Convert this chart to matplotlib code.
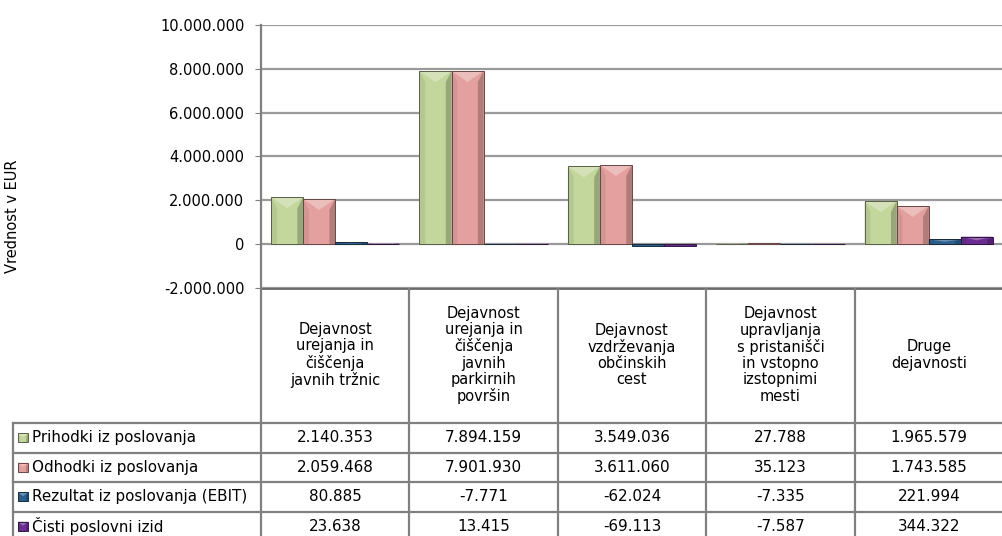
import numpy as np
import matplotlib
matplotlib.use('Agg')
import matplotlib.pyplot as plt
from matplotlib.patches import Polygon
from matplotlib.ticker import FuncFormatter
from matplotlib.colors import to_rgb

# ---------- DATA ----------
categories = [
    'Dejavnost\nurejanja in\nčiščenja\njavnih tržnic',
    'Dejavnost\nurejanja in\nčiščenja\njavnih\nparkirnih\npovršin',
    'Dejavnost\nvzdrževanja\nobčinskih\ncest',
    'Dejavnost\nupravljanja\ns pristanišči\nin vstopno\nizstopnimi\nmesti',
    'Druge\ndejavnosti',
]
series_names = ['Prihodki iz poslovanja', 'Odhodki iz poslovanja',
                'Rezultat iz poslovanja (EBIT)', 'Čisti poslovni izid']
prihodki = [2140353, 7894159, 3549036, 27788, 1965579]
odhodki = [2059468, 7901930, 3611060, 35123, 1743585]
ebit = [80885, -7771, -62024, -7335, 221994]
cisti = [23638, 13415, -69113, -7587, 344322]
yticks = [-2000000, 0, 2000000, 4000000, 6000000, 8000000, 10000000]

series = [prihodki, odhodki, ebit, cisti]
colors = ['#c3d69b', '#e3a09e', '#2e5f8c', '#6a2c91']

W, H = 1003, 536
FS = 10.5
FS_ROW = 10.9


def fmt(v):
    s = f'{abs(int(v)):,}'.replace(',', '.')
    return '-' + s if v < 0 else s


def shade(c, f):
    r, g, b = to_rgb(c)
    if f >= 1:
        return tuple(x + (1 - x) * (f - 1) for x in (r, g, b))
    return tuple(x * f for x in (r, g, b))


def bevel(ax, x0, x1, y0, y1, by, color):
    # beveled bar: light V on top, darker sides
    by = min(by, abs(y1 - y0) / 2) if by > 0 else max(by, -abs(y1 - y0) / 2)
    xm = (x0 + x1) / 2
    ax.add_patch(Polygon([(x0, y0), (x1, y0), (x1, y1), (x0, y1)], closed=True,
                         fc=color, ec='none', zorder=3))
    sx = (x1 - x0) * 0.18
    ax.add_patch(Polygon([(x0, y0), (x0, y1), (x0 + sx, y1 - by), (x0 + sx, y0)],
                         fc=shade(color, 0.93), ec='none', zorder=4))
    ax.add_patch(Polygon([(x1, y0), (x1, y1), (x1 - sx, y1 - by), (x1 - sx, y0)],
                         fc=shade(color, 0.78), ec='none', zorder=4))
    ax.add_patch(Polygon([(x0, y1), (x1, y1), (xm, y1 - by)],
                         fc=shade(color, 1.3), ec='none', zorder=4))
    ax.add_patch(Polygon([(x0, y0), (x1, y0), (x1, y1), (x0, y1)], closed=True,
                         fc='none', ec=shade(color, 0.45), lw=0.7, zorder=5))


fig = plt.figure(figsize=(W / 100, H / 100), dpi=100)
plt.rcParams['font.family'] = ['DejaVu Sans']

# ---------- CHART ----------
left, right, top, bottom = 261, 1003, 25, 288
ax = fig.add_axes([left / W, 1 - bottom / H, (right - left) / W, (bottom - top) / H])
ax.set_xlim(0, len(categories))
ax.set_ylim(yticks[0], yticks[-1])
for t in yticks:
    ax.axhline(t, color='#9a9a9a', lw=1.6, zorder=1)
ax.set_yticks(yticks)
ax.yaxis.set_major_formatter(FuncFormatter(lambda v, p: fmt(v)))
ax.tick_params(axis='y', labelsize=FS, length=4, color='#808080', pad=8)
ax.set_xticks([])
for s in ['top', 'right', 'bottom']:
    ax.spines[s].set_visible(False)
ax.spines['left'].set_color('#808080')
ax.spines['left'].set_linewidth(1.6)

bw = 0.216
px_x = (right - left) / len(categories)
px_y = (bottom - top) / (yticks[-1] - yticks[0])
for i, (vals, col) in enumerate(zip(series, colors)):
    for j, v in enumerate(vals):
        x0 = j + 0.5 + (i - 2) * bw
        bar = ax.bar(x0, v, width=bw, align='edge', color='none')[0]
        y0, y1 = min(0, v), max(0, v)
        bevel(ax, bar.get_x(), bar.get_x() + bar.get_width(), y0, y1,
              11 / px_y, col)

fig.text(13 / W, 1 - 216 / H, 'Vrednost v EUR', rotation=90, fontsize=FS,
         ha='center', va='center')

# ---------- TABLE ----------
tb = fig.add_axes([0, 0, 1, 1 - bottom / H])
tb.set_xlim(0, W)
tb.set_ylim(H, bottom)
tb.axis('off')
lc = '#808080'
row_top = 423
row_h = 29.5
tb.plot([left, W], [bottom, bottom], color='#6a6a6a', lw=2)
for j in range(len(categories)):
    xl = left + j * px_x
    tb.plot([xl, xl], [bottom, H], color=lc, lw=1.6)
    tb.text(xl + px_x / 2, 355, categories[j], ha='center', va='center',
            fontsize=FS, linespacing=1.1)
tb.plot([13, 13], [row_top, H], color=lc, lw=1.6)
for r in range(len(series)):
    yt = row_top + r * row_h
    tb.plot([13, W], [yt, yt], color=lc, lw=1.6)
    yc = yt + row_h / 2
    bevel(tb, 18, 28, yc + 4.5, yc - 4.5, -4, colors[r])
    tb.text(32, yc, series_names[r], ha='left', va='center', fontsize=FS_ROW)
    for j, v in enumerate(series[r]):
        tb.text(left + (j + 0.5) * px_x, yc, fmt(v), ha='center', va='center',
                fontsize=FS_ROW)

fig.savefig('out.png', dpi=100)
